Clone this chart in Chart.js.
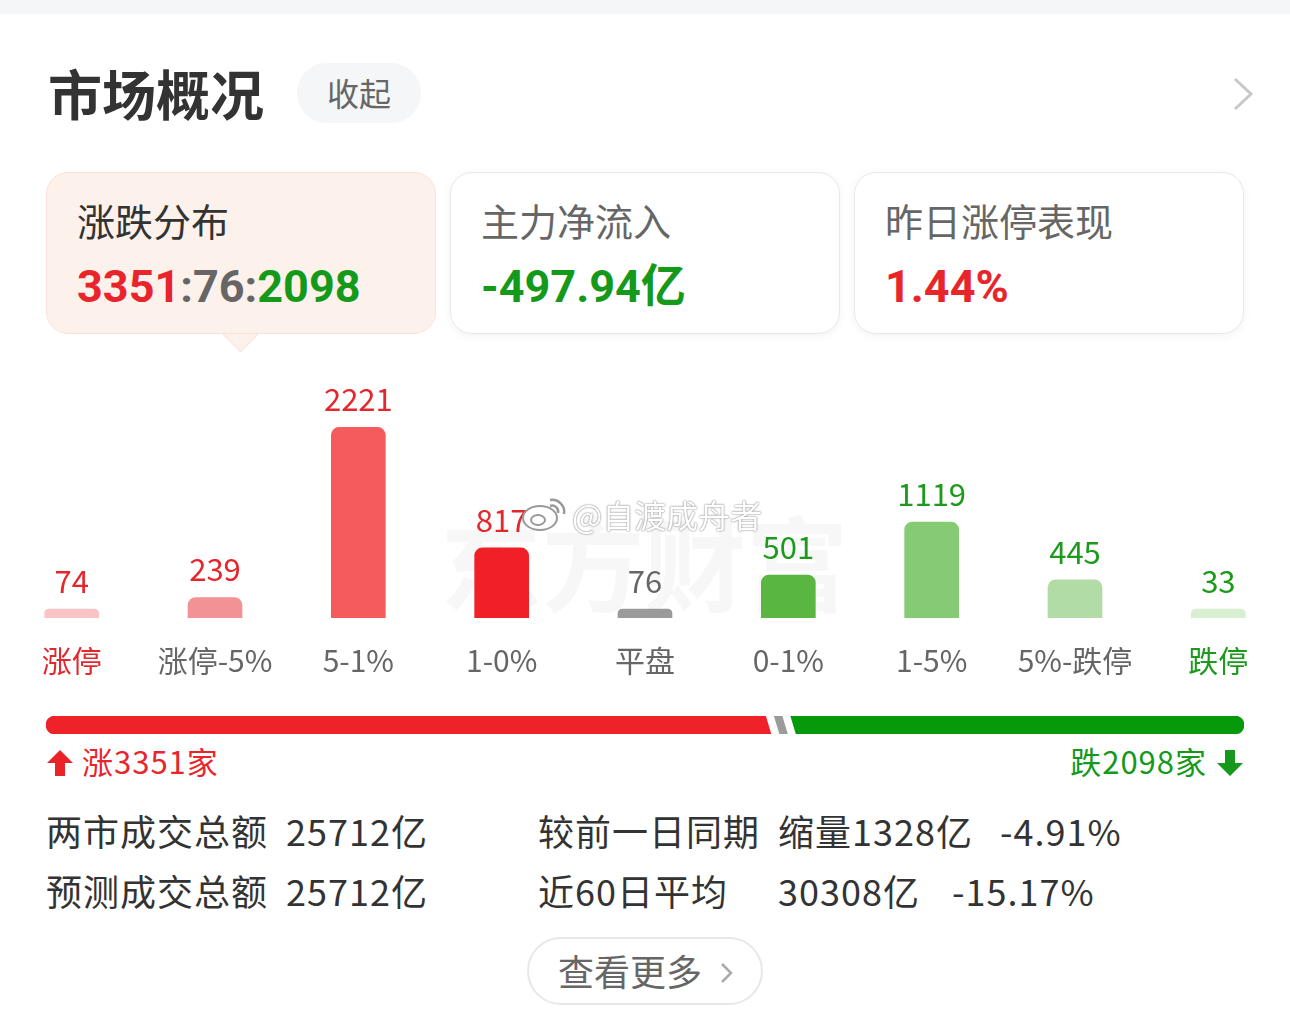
<!DOCTYPE html>
<html>
<head>
<meta charset="utf-8">
<script src="https://cdn.jsdelivr.net/npm/chart.js@4"></script>
<style>
  html, body { margin: 0; padding: 0; background: #fff; }
  body { width: 1290px; height: 1025px; position: relative; overflow: hidden;
         font-family: "Noto Sans CJK SC", sans-serif; color: #333; }
  .abs { position: absolute; white-space: nowrap; }
  .topband { left: 0; top: 0; width: 1290px; height: 14px; background: #f5f6f8; }
  .title { left: 48px; top: 63px; font-size: 54px; line-height: 60px; font-weight: bold; color: #333; }
  .pill { left: 297px; top: 63px; width: 124px; height: 60px; border-radius: 30px; background: #f5f6f8;
          font-size: 32px; line-height: 58px; text-align: center; color: #666; }
  .card { top: 172px; width: 388px; height: 160px; border-radius: 22px; border: 1px solid #e9e9e9;
          background: #fff; box-shadow: 0 2px 10px rgba(0,0,0,0.05); }
  .card.sel { background: #fdf1ec; border-color: #fbe2d9; box-shadow: none; }
  .tip { left: 228px; top: 322px; width: 24px; height: 24px; background: #fdf1ec; transform: rotate(45deg);
         border-right: 1px solid #fbe2d9; border-bottom: 1px solid #fbe2d9; }
  .ctitle { font-size: 38px; line-height: 44px; color: #666; }
  .cval { font-family: Roboto, "Noto Sans CJK SC", sans-serif; font-weight: bold; font-size: 45px; line-height: 50px; }
  .red { color: #e8252b; }
  .green { color: #15991a; }
  .gray { color: #666; }
  .cnt { font-size: 31px; line-height: 36px; letter-spacing: 1px; }
  .row { font-size: 36px; line-height: 42px; color: #333; letter-spacing: 1px; }
  .btn { left: 527px; top: 937px; width: 232px; height: 64px; border: 2px solid #e8e8e8; border-radius: 34px;
         font-size: 36px; line-height: 62px; color: #666; }
  .wm { left: 440px; top: 505px; font-size: 102px; line-height: 110px; font-weight: bold; color: #f7f7f7; }
  .weibo { left: 572px; top: 494px; font-size: 32px; line-height: 40px; color: #fff;
           text-shadow: 0 0 2px #888, 0 0 1px #888; }
</style>
</head>
<body>
<div class="abs topband"></div>
<div class="abs title">市场概况</div>
<div class="abs pill">收起</div>
<svg class="abs" style="left:1230px;top:76px" width="28" height="36">
  <polyline points="5,3 21,18 5,33" fill="none" stroke="#c8c8c8" stroke-width="3"/>
</svg>

<div class="abs tip"></div>
<div class="abs card sel" style="left:46px"></div>
<div class="abs card" style="left:450px"></div>
<div class="abs card" style="left:854px"></div>

<div class="abs ctitle" style="left:77px;top:198px;color:#333">涨跌分布</div>
<div class="abs cval" style="left:77px;top:262px"><span class="red">3351</span><span class="gray">:76:</span><span class="green">2098</span></div>
<div class="abs ctitle" style="left:481px;top:198px">主力净流入</div>
<div class="abs cval green" style="left:481px;top:262px">-497.94亿</div>
<div class="abs ctitle" style="left:885px;top:198px">昨日涨停表现</div>
<div class="abs cval red" style="left:885px;top:262px">1.44%</div>

<div class="abs wm">东方财富</div>
<div class="abs" style="left:0;top:385px;width:1290px;height:340px">
  <canvas id="dist"></canvas>
</div>
<svg class="abs" style="left:520px;top:494px" width="50" height="40">
  <ellipse cx="20" cy="24" rx="17" ry="12" fill="#fff" stroke="#999" stroke-width="2"/>
  <ellipse cx="18" cy="26" rx="7" ry="5" fill="none" stroke="#999" stroke-width="2"/>
  <path d="M30 6 A12 12 0 0 1 44 20" fill="none" stroke="#999" stroke-width="2.5"/>
  <path d="M30 12 A6 6 0 0 1 38 19" fill="none" stroke="#999" stroke-width="2.5"/>
</svg>
<div class="abs weibo">@自渡成舟者</div>

<div class="abs" style="left:46px;top:716px;width:1198px;height:18px">
  <canvas id="split"></canvas>
</div>

<svg class="abs" style="left:46px;top:749px" width="28" height="28">
  <polygon points="14,1 27,14 19,14 19,27 9,27 9,14 1,14" fill="#ea2328"/>
</svg>
<div class="abs cnt red" style="left:82px;top:743px">涨3351家</div>
<div class="abs cnt green" style="right:83px;top:743px">跌2098家</div>
<svg class="abs" style="left:1216px;top:749px" width="28" height="28">
  <polygon points="14,27 27,14 19,14 19,1 9,1 9,14 1,14" fill="#14991a"/>
</svg>

<div class="abs row" style="left:46px;top:809px">两市成交总额</div>
<div class="abs row" style="left:286px;top:809px">25712亿</div>
<div class="abs row" style="left:538px;top:809px">较前一日同期</div>
<div class="abs row green" style="left:778px;top:809px">缩量1328亿</div>
<div class="abs row green" style="left:1000px;top:809px">-4.91%</div>

<div class="abs row" style="left:46px;top:869px">预测成交总额</div>
<div class="abs row" style="left:286px;top:869px">25712亿</div>
<div class="abs row" style="left:538px;top:869px">近60日平均</div>
<div class="abs row" style="left:778px;top:869px">30308亿</div>
<div class="abs row green" style="left:952px;top:869px">-15.17%</div>

<div class="abs btn"><span style="position:absolute;left:29px">查看更多</span>
  <svg style="position:absolute;left:190px;top:22px" width="16" height="24">
    <polyline points="3,3 12,12 3,21" fill="none" stroke="#aaa" stroke-width="2.5"/>
  </svg>
</div>

<script>
const categories = ['涨停', '涨停-5%', '5-1%', '1-0%', '平盘', '0-1%', '1-5%', '5%-跌停', '跌停'];
const counts     = [74, 239, 2221, 817, 76, 501, 1119, 445, 33];
const splitLabels = ['涨', '平', '跌'];
const splitCounts = [3351, 76, 2098];

const barColors   = ['#f9c4c6', '#f39294', '#f45b5d', '#f02126', '#9a9a9a', '#59b641', '#86cb73', '#b1dca5', '#d8efd1'];
const valueColors = ['#e3272d', '#e3272d', '#e3272d', '#e3272d', '#666666', '#1c9a1c', '#1c9a1c', '#1c9a1c', '#1c9a1c'];
const tickColors  = ['#e3272d', '#666666', '#666666', '#666666', '#666666', '#666666', '#666666', '#666666', '#1c9a1c'];

Chart.defaults.font.family = '"Noto Sans CJK SC", sans-serif';
Chart.defaults.animation = false;

const valueLabels = {
  id: 'valueLabels',
  afterDatasetsDraw(chart) {
    const ctx = chart.ctx;
    const meta = chart.getDatasetMeta(0);
    ctx.save();
    ctx.font = '31px "Noto Sans CJK SC", sans-serif';
    ctx.textAlign = 'center';
    ctx.textBaseline = 'alphabetic';
    meta.data.forEach(function(bar, i) {
      ctx.fillStyle = valueColors[i];
      ctx.fillText(String(counts[i]), bar.x, bar.y - 16);
    });
    ctx.restore();
  }
};

new Chart(document.getElementById('dist'), {
  type: 'bar',
  data: {
    labels: categories,
    datasets: [{
      data: counts,
      backgroundColor: barColors,
      barThickness: 54,
      minBarLength: 9,
      borderRadius: { topLeft: 8, topRight: 8, bottomLeft: 0, bottomRight: 0 },
      borderSkipped: false
    }]
  },
  options: {
    responsive: true,
    maintainAspectRatio: false,
    layout: { padding: { left: 0, right: 0, top: 0, bottom: 21 } },
    plugins: { legend: { display: false }, tooltip: { enabled: false } },
    scales: {
      y: { display: false, min: 0, max: 2715 },
      x: {
        grid: { display: false, drawTicks: false },
        border: { display: false },
        ticks: {
          padding: 25,
          font: { size: 30 },
          color: function(c) { return tickColors[c.index]; }
        }
      }
    }
  },
  plugins: [valueLabels]
});

// white slanted gaps between the segments of the split bar
const slantGaps = {
  id: 'slantGaps',
  afterDatasetsDraw(chart) {
    const ctx = chart.ctx;
    const area = chart.chartArea;
    ctx.save();
    ctx.fillStyle = '#ffffff';
    for (let d = 0; d < chart.data.datasets.length - 1; d++) {
      const bar = chart.getDatasetMeta(d).data[0];
      const x = bar.x;
      ctx.beginPath();
      ctx.moveTo(x - 7, area.top - 1);
      ctx.lineTo(x + 1, area.top - 1);
      ctx.lineTo(x + 7, area.bottom + 1);
      ctx.lineTo(x - 1, area.bottom + 1);
      ctx.closePath();
      ctx.fill();
    }
    ctx.restore();
  }
};

const splitColors = ['#ef2228', '#9b9b9b', '#069a0b'];
const splitRadius = [
  { topLeft: 9, bottomLeft: 9, topRight: 0, bottomRight: 0 },
  0,
  { topLeft: 0, bottomLeft: 0, topRight: 9, bottomRight: 9 }
];

new Chart(document.getElementById('split'), {
  type: 'bar',
  data: {
    labels: [''],
    datasets: splitCounts.map(function(v, i) {
      return {
        label: splitLabels[i],
        data: [v],
        backgroundColor: splitColors[i],
        borderRadius: splitRadius[i],
        borderSkipped: false,
        barPercentage: 1,
        categoryPercentage: 1
      };
    })
  },
  options: {
    indexAxis: 'y',
    responsive: true,
    maintainAspectRatio: false,
    layout: { padding: 0 },
    plugins: { legend: { display: false }, tooltip: { enabled: false } },
    scales: {
      x: { display: false, stacked: true, min: 0, max: splitCounts.reduce(function(a, b) { return a + b; }, 0) },
      y: { display: false, stacked: true }
    }
  },
  plugins: [slantGaps]
});
</script>
</body>
</html>
